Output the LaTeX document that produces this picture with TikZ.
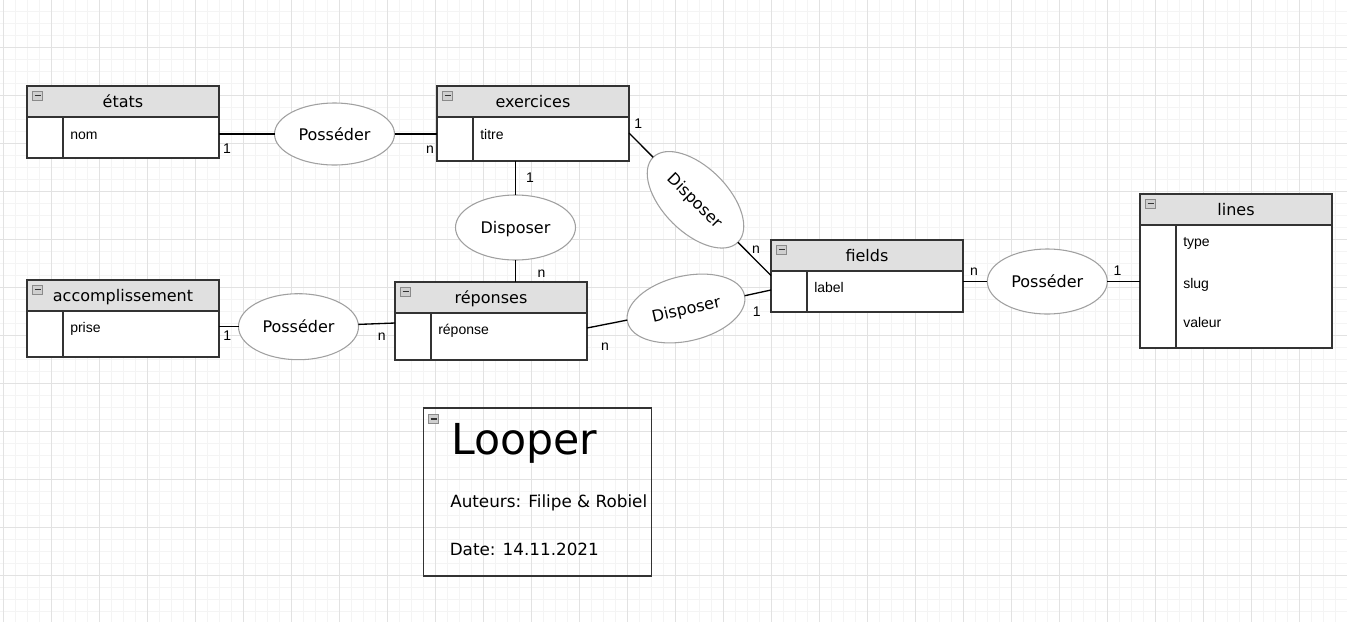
\documentclass[tikz,border=0pt]{standalone}
\usepackage{fontspec}
\setmainfont{DejaVu Sans}
\newfontfamily\arialf{Liberation Sans}
\usetikzlibrary{shapes.geometric,calc}
\definecolor{hdrfill}{HTML}{E0E0E0}
\definecolor{tblborder}{HTML}{333333}
\definecolor{elborder}{HTML}{A0A0A0}
\definecolor{gridminor}{HTML}{F4F4F4}
\definecolor{gridmajor}{HTML}{E2E2E2}
\definecolor{iconfill}{HTML}{CFCFCF}
\definecolor{iconborder}{HTML}{8A8A8A}
\newcommand\erTable[5]{%
  \node[hdr] (#1) at (#2,#3) {#5};
  \node[bodybox, minimum height=#4] (#1-b) at (#1.south west) {};
  \draw[divline] ($(#1-b.north west)+(36,0)$) -- ($(#1-b.south west)+(36,0)$);
  \draw[draw=iconborder, fill=iconfill, line width=0.6pt] ($(#1.north west)+(5.5,5)$) rectangle ++(10,9);
  \draw[black!80, line width=1.1pt] ($(#1.north west)+(7.5,9.5)$) -- ++(6,0);
}
\begin{document}
\begin{tikzpicture}[x=0.75pt,y=-0.75pt,
  hdr/.style={draw=tblborder, line width=1.1pt, fill=hdrfill, rectangle, anchor=north west, inner sep=0pt, outer sep=0pt, minimum width=144pt, minimum height=23.25pt, text height=8.25pt, text depth=0pt, font=\fontsize{12}{14}\selectfont},
  bodybox/.style={draw=tblborder, line width=1.1pt, fill=white, rectangle, anchor=north west, inner sep=0pt, outer sep=0pt, minimum width=144pt},
  attr/.style={anchor=base west, inner sep=0pt, font=\arialf\fontsize{10.5}{12}\selectfont},
  card/.style={anchor=base, inner sep=0pt, font=\arialf\fontsize{10.5}{12}\selectfont},
  rel/.style={ellipse, draw=elborder, line width=0.8pt, fill=white, inner sep=0pt, outer sep=0pt, minimum width=90pt, minimum height=48.75pt, text height=9.3pt, text depth=0pt, font=\fontsize{12}{14}\selectfont},
  conn/.style={draw=black, line width=1pt},
  divline/.style={draw=tblborder, line width=0.8pt},
  bigtext/.style={anchor=base west, inner sep=0pt},
]
\useasboundingbox (0,0) rectangle (1347,622);
\fill[white] (0,0) rectangle (1347,622);
% grid
\foreach \i in {0,...,111} { \draw[gridminor, line width=0.75pt] (3.3+12*\i,0) -- (3.3+12*\i,622); }
\foreach \j in {1,...,51} { \draw[gridminor, line width=0.75pt] (0,-0.7+12*\j) -- (1347,-0.7+12*\j); }
\foreach \i in {0,...,27} { \draw[gridmajor, line width=0.75pt] (3.3+48*\i,0) -- (3.3+48*\i,622); }
\foreach \j in {0,...,11} { \draw[gridmajor, line width=0.75pt] (0,47.3+48*\j) -- (1347,47.3+48*\j); }

% tables
\erTable{etats}{27}{86}{30.75pt}{états}
\erTable{exer}{437}{86}{33pt}{exercices}
\erTable{acc}{27}{280}{34.5pt}{accomplissement}
\erTable{rep}{395}{282}{35.25pt}{réponses}
\erTable{fields}{771}{240}{30.75pt}{fields}
\erTable{lines}{1140}{194}{92.25pt}{lines}

% attributes
\node[attr] (a-nom) at (70,139) {nom};
\node[attr] (a-titre) at (480,139) {titre};
\node[attr] (a-prise) at (70,332) {prise};
\node[attr] (a-rep) at (438,334.5) {réponse};
\node[attr] (a-label) at (814,292) {label};
\node[attr] (a-type) at (1183,246.7) {type};
\node[attr] (a-slug) at (1183,288.3) {slug};
\node[attr] (a-valeur) at (1183,327.7) {valeur};

% relationship ellipses
\node[rel, minimum height=46.5pt] (P1) at (334.5,134) {Posséder};
\node[rel] (DV) at (515.5,227.5) {Disposer};
\node[rel, rotate=-45] (DR) at (695.5,199.8) {Disposer};
\node[rel, minimum height=49.5pt] (P2) at (298.5,326.7) {Posséder};
\node[rel, rotate=13] (D3) at (686,308.5) {Disposer};
\node[rel] (P3) at (1047.3,281.5) {Posséder};

% anchor points on tables
\coordinate (exer-r) at ($(exer-b.north east)+(0,16)$);
\coordinate (fields-l1) at ($(fields-b.north west)+(0,4.5)$);
\coordinate (rep-l) at ($(rep-b.north west)+(0,10)$);
\coordinate (rep-r) at ($(rep-b.north east)+(0,15)$);
\coordinate (fields-l2) at ($(fields-b.north west)+(0,19)$);

% connectors
\draw[conn] (etats-b.east |- P1.center) -- (P1);
\draw[conn] (P1) -- (exer-b.west |- P1.center);
\draw[conn] (exer-b.south -| DV.north) -- (DV.north);
\draw[conn] (DV.south) -- (DV.south |- rep.north);
\draw[conn] (exer-r) -- (DR);
\draw[conn] (DR) -- (fields-l1);
\draw[conn] (acc-b.east |- P2.center) -- (P2);
\draw[conn] (P2) -- (rep-l);
\draw[conn] (rep-r) -- (D3);
\draw[conn] (D3) -- (fields-l2);
\draw[conn] (fields-b.east |- P3.center) -- (P3);
\draw[conn] (P3) -- (lines-b.west |- P3.center);

% cardinalities
\node[card] (c1) at (227,153) {1};
\node[card] (c2) at (430,153) {n};
\node[card] (c3) at (530,182) {1};
\node[card] (c4) at (541.5,277) {n};
\node[card] (c5) at (638.3,128) {1};
\node[card] (c6) at (756,253) {n};
\node[card] (c7) at (227.3,340.7) {1};
\node[card] (c8) at (381.7,340.7) {n};
\node[card] (c9) at (605,350) {n};
\node[card] (c10) at (756.7,316) {1};
\node[card] (c11) at (974,275) {n};
\node[card] (c12) at (1117.5,275) {1};

% Looper box
\node[draw=tblborder, line width=1.1pt, rectangle, anchor=north west, inner sep=0pt, outer sep=0pt, minimum width=171pt, minimum height=126pt] (looper) at (423.5,408) {};
\draw[draw=iconborder, fill=iconfill, line width=0.6pt] ($(looper.north west)+(5,6)$) rectangle ++(10,9.5);
\draw[black!80, line width=1.1pt] ($(looper.north west)+(7,10.8)$) -- ++(6,0);
\node[bigtext, font=\fontsize{32}{38}\selectfont] (ltitle) at (451,454) {Looper};
\node[bigtext, font=\fontsize{12.6}{15}\selectfont] (lauth) at (450,507.5) {Auteurs: Filipe \& Robiel};
\node[bigtext, font=\fontsize{12.6}{15}\selectfont] (ldate) at (449.5,555.5) {Date: 14.11.2021};
\end{tikzpicture}
\end{document}
